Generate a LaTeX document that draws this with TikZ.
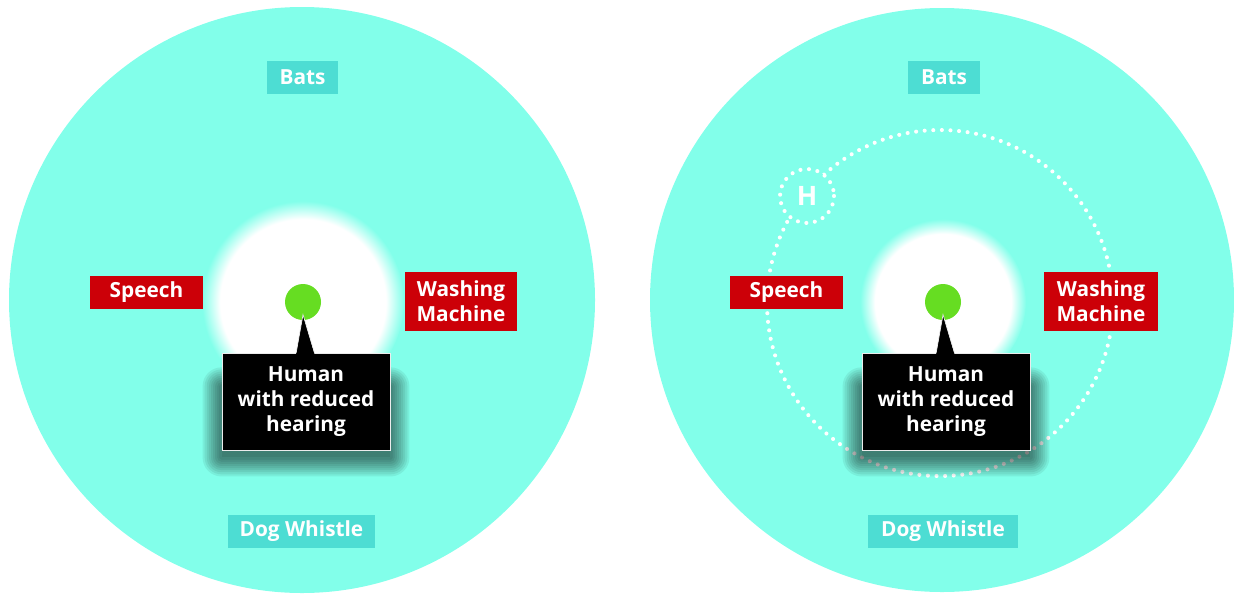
\documentclass[tikz,border=0pt]{standalone}
\usepackage{fontspec}
\setmainfont{Open Sans}
\usetikzlibrary{positioning,calc}
\definecolor{skycyan}{HTML}{82FFEA}
\definecolor{tagcyan}{HTML}{4DDDD3}
\definecolor{alarmred}{HTML}{CC0008}
\definecolor{dotgreen}{HTML}{66DD22}
\pgfdeclareradialshading{hearglow}{\pgfpoint{0bp}{0bp}}{color(0bp)=(white); color(20.5bp)=(white); color(25bp)=(skycyan); color(50bp)=(skycyan)}
\pgfdeclarelayer{back}
\pgfdeclarelayer{under}
\pgfsetlayers{back,under,main}
\newcommand{\tagfont}{\fontsize{14.8pt}{18pt}\selectfont\bfseries}

\begin{document}
\begin{tikzpicture}[
    x=0.025cm, y=-0.025cm,
    soundtag/.style={fill=tagcyan, text=white, font=\tagfont, inner sep=0pt, minimum height=0.825cm, align=center},
    noisetag/.style={fill=alarmred, text=white, font=\tagfont, inner sep=0pt, minimum height=0.825cm, align=center},
    humanbox/.style={fill=black, draw=white!85!gray, line width=0.6pt, text=white, font=\tagfont, inner sep=0pt, minimum width=4.2cm, minimum height=2.425cm, align=center},
    eardot/.style={circle, fill=dotgreen, inner sep=0pt, minimum size=0.9cm},
    dotring/.style={draw=white, line width=2.9pt, line cap=round, dash pattern=on 0pt off 0.215cm}
]
    \useasboundingbox (0,0) rectangle (1234,593);

    % Hoerbereiche (grosse Kreise) und weisse Zonen, ganz hinten
    \begin{pgfonlayer}{back}
        \fill[skycyan] (302,300) circle (293);
        \fill[skycyan] (942,300) circle (292);
        \shade[shading=hearglow] (303,302) circle (101);
        \shade[shading=hearglow] (943,302) circle (83);
        % rechts: gepunkteter Kreis
        \draw[dotring] (940,303) circle (173);
    \end{pgfonlayer}

    % Rechts: H auf dem Kreis
    \node[circle, fill=skycyan, minimum size=1.35cm, inner sep=0pt, text=white, font=\fontsize{19pt}{19pt}\selectfont\bfseries] (hear) at (807,196) {H};
    \draw[dotring] (hear.center) circle (27);

    % Links
    \node[soundtag, minimum width=1.775cm] (batsL) at (302.5,77.5) {Bats};
    \node[noisetag, minimum width=2.825cm] (speechL) at (146.5,292.5) {Speech};
    \node[noisetag, minimum width=2.8cm, minimum height=1.475cm] (washL) at (461,301.5) {Washing\\Machine};
    \node[soundtag, minimum width=3.675cm] (dogL) at (301.5,531.5) {Dog Whistle};
    \node[humanbox] (humanL) at (306,401.5) {Human\\with reduced\\hearing};
    \node[eardot] (dotL) at (303,302) {};
    \fill[black] ([xshift=-7pt,yshift=-1pt]humanL.north) -- ([yshift=4pt]dotL.south) -- ([xshift=6pt,yshift=-1pt]humanL.north) -- cycle;
    \draw[white!85!gray, line width=0.5pt] ([xshift=-7pt]humanL.north) -- ([yshift=4pt]dotL.south) -- ([xshift=6pt]humanL.north);

    % Rechts
    \node[soundtag, minimum width=1.8cm] (batsR) at (944,77.5) {Bats};
    \node[noisetag, minimum width=2.825cm] (speechR) at (786.5,292.5) {Speech};
    \node[noisetag, minimum width=2.85cm, minimum height=1.475cm] (washR) at (1101,301.5) {Washing\\Machine};
    \node[soundtag, minimum width=3.75cm] (dogR) at (943,531.5) {Dog Whistle};
    \node[humanbox] (humanR) at (946,401.5) {Human\\with reduced\\hearing};
    \node[eardot] (dotR) at (943,302) {};
    \fill[black] ([xshift=-7pt,yshift=-1pt]humanR.north) -- ([yshift=4pt]dotR.south) -- ([xshift=6pt,yshift=-1pt]humanR.north) -- cycle;
    \draw[white!85!gray, line width=0.5pt] ([xshift=-7pt]humanR.north) -- ([yshift=4pt]dotR.south) -- ([xshift=6pt]humanR.north);

    % Weiche Schatten unter den schwarzen Kaesten
    \begin{pgfonlayer}{under}
        \foreach \b in {humanL, humanR}
            \foreach \s in {0,1.5,...,13.5}
                \fill[black, opacity=0.065, rounded corners=\s pt]
                    ([xshift=-\s pt, yshift=-5pt-\s pt]\b.south west) rectangle ([xshift=\s pt, yshift=-24pt+\s pt]\b.north east);
    \end{pgfonlayer}

\end{tikzpicture}
\end{document}
